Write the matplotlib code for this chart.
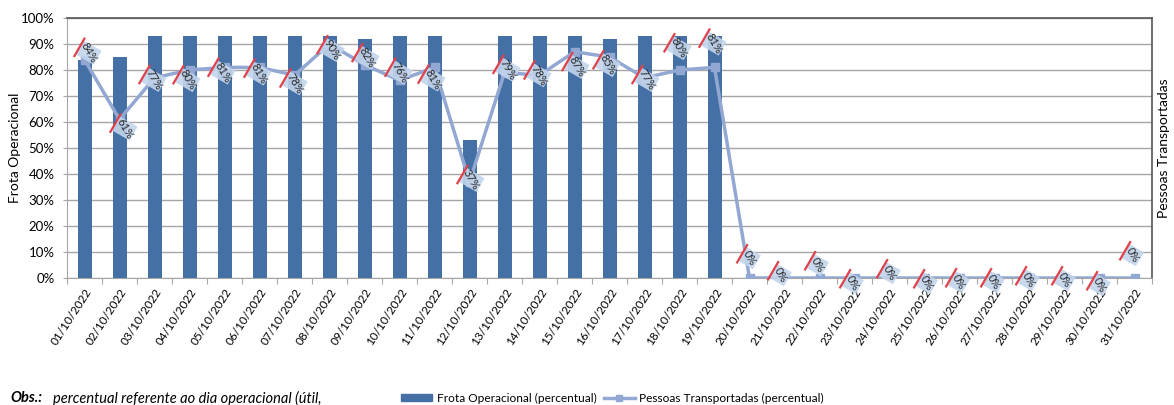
import matplotlib.pyplot as plt
import numpy as np
from matplotlib.lines import Line2D
from matplotlib.patches import Patch, Polygon

# dados
dias = ["%02d/10/2022" % d for d in range(1, 32)]
frota = [84, 85, 93, 93, 93, 93, 93, 93, 92, 93, 93, 53, 93, 93, 93, 92, 93, 93, 93,
         0, 0, 0, 0, 0, 0, 0, 0, 0, 0, 0, 0]
pessoas = [84, 61, 77, 80, 81, 81, 78, 90, 82, 76, 81, 37, 79, 78, 87, 85, 77, 80, 81,
           0, 0, 0, 0, 0, 0, 0, 0, 0, 0, 0, 0]
# deslocamento dos rotulos (pixels, y para baixo)
rot_dx = [4, 5, -1, -2, -2, -1, 0, 2, 2, 0, -2, 2, 3, -1, 2, -2, 2, -1, -1,
          0, -4, -2, -2, 0, 2, -1, -1, -1, 0, 0, -2]
rot_dy = [-7, 9, 2, 10, 5, 6, 8, 6, -7, -8, 12, -2, -3, 0, 15, 8, 2, -22, -24,
          -20, -3, -13, 5, -5, 5, 4, 4, 2, 2, 7, -23]

cor_barra = "#4470a6"
cor_linha = "#92a8d2"
fonte = "Lato"

fig = plt.figure(figsize=(11.74, 4.05), dpi=100)
ax = fig.add_axes([67 / 1174, 1 - 278 / 405, (1152 - 67) / 1174, 260 / 405])

x = np.arange(len(dias))
ax.bar(x, np.array(frota) / 100, width=0.4, color=cor_barra, zorder=2)
ax.plot(x, np.array(pessoas) / 100, color=cor_linha, lw=2.5, marker="s", ms=6,
        zorder=3)

ax.set_xlim(-0.5, len(dias) - 0.5)
ax.set_ylim(0, 1)
ax.set_yticks(np.arange(0, 1.01, 0.1))
ax.set_yticklabels(["%d%%" % v for v in range(0, 101, 10)], fontsize=9.5,
                   fontname=fonte)
ax.yaxis.grid(True, color="#a6a6a6", lw=1, zorder=0)
ax.set_axisbelow(True)
ax.tick_params(axis="y", length=3, color="#a6a6a6", pad=6)

ax.set_xticks(np.arange(-0.5, len(dias)), minor=False)
ax.set_xticklabels([])
ax.set_xticks(x, minor=True)
ax.set_xticklabels(dias, minor=True, rotation=57, ha="right",
                   rotation_mode="anchor", fontsize=8.5, fontname=fonte)
ax.tick_params(axis="x", which="major", length=4, color="#a6a6a6")
ax.tick_params(axis="x", which="minor", length=0, pad=6)

for s in ["left", "bottom"]:
    ax.spines[s].set_color("#a6a6a6")
for s in ["top", "right"]:
    ax.spines[s].set_color("#555555")
    ax.spines[s].set_linewidth(1.2)

# titulos dos eixos
fig.text(15 / 1174, 1 - 148 / 405, "Frota Operacional", rotation=90,
         ha="center", va="center", fontsize=10, fontname=fonte)
fig.text(1164 / 1174, 1 - 148 / 405, "Pessoas Transportadas", rotation=90,
         ha="center", va="center", fontsize=10, fontname=fonte)

# rotulos de dados (caixa girada com borda vermelha)
inv = fig.transFigure.inverted()
a_dir = np.array([np.cos(np.deg2rad(-30)), np.sin(np.deg2rad(-30))])
b_dir = np.array([np.cos(np.deg2rad(60)), np.sin(np.deg2rad(60))])
for i, p in enumerate(pessoas):
    txt = "%d%%" % p
    px, py = ax.transData.transform((x[i], p / 100))
    c = np.array([px + rot_dx[i], py - rot_dy[i]])
    ha = 4.5 + 2 * len(txt)
    hb = 8
    cantos = [c - ha * a_dir - hb * b_dir, c + ha * a_dir - hb * b_dir,
              c + ha * a_dir + hb * b_dir, c - ha * a_dir + hb * b_dir]
    fig.add_artist(Polygon(inv.transform(cantos), closed=True, fc="#c3d5ec",
                           ec="none", alpha=0.9, transform=fig.transFigure,
                           zorder=5))
    r0 = c - ha * a_dir - (hb + 2) * b_dir
    r1 = c - ha * a_dir + (hb + 2) * b_dir
    (x0, y0), (x1, y1) = inv.transform([r0, r1])
    fig.add_artist(Line2D([x0, x1], [y0, y1], color="#e0414a", lw=1.6,
                          transform=fig.transFigure, zorder=6))
    tx, ty = inv.transform(c)
    fig.text(tx, ty, txt, rotation=-60, ha="center", va="center",
             rotation_mode="anchor", fontsize=8, fontname=fonte,
             color="#262626", zorder=7)

# rodape
fig.text(10 / 1174, 1 - 398 / 405, "Obs.:", fontsize=10.5, fontweight="bold",
         style="italic", va="center", fontname=fonte)
fig.text(53 / 1174, 1 - 398 / 405, "percentual referente ao dia operacional (útil,",
         fontsize=10.5, style="italic", va="center", fontname=fonte)

handles = [Patch(color=cor_barra),
           Line2D([], [], color=cor_linha, lw=2.5, marker="s", ms=5)]
fig.legend(handles, ["Frota Operacional (percentual)",
                     "Pessoas Transportadas (percentual)"],
           loc="center left", bbox_to_anchor=(390 / 1174, 1 - 398 / 405),
           ncol=2, frameon=False, prop={"family": fonte, "size": 8.6},
           handlelength=2.6, handleheight=0.5, columnspacing=0.6,
           handletextpad=0.4)

fig.savefig("out.png", dpi=100)
